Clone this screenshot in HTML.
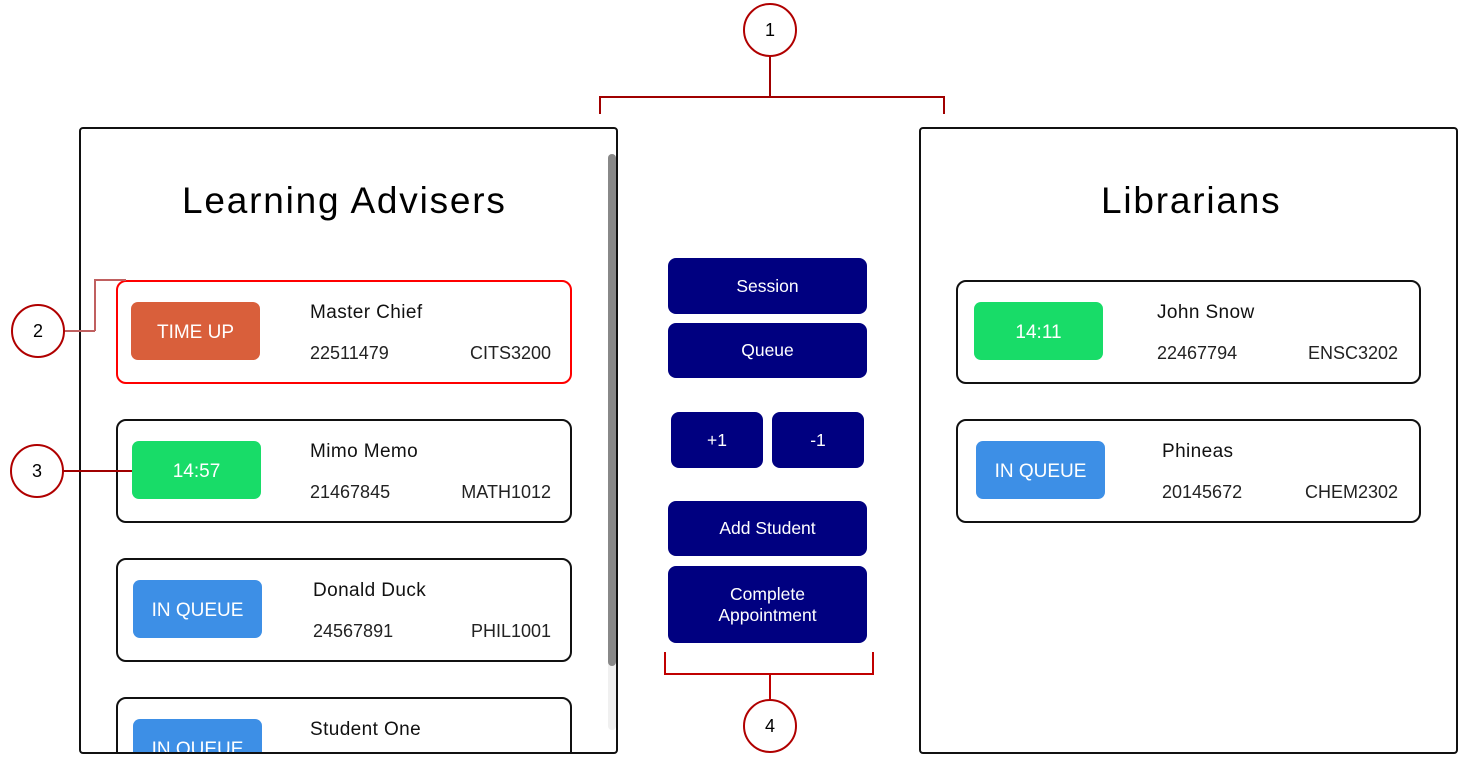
<!DOCTYPE html>
<html><head><meta charset="utf-8"><style>
*{margin:0;padding:0;box-sizing:border-box}
html,body{width:1464px;height:759px;overflow:hidden}
body{background:#fff;position:relative;font-family:"Liberation Sans",sans-serif}
.a{position:absolute}
.panel{position:absolute;border:2px solid #111;border-radius:4px;background:#fff;overflow:hidden}
.card{position:absolute;border:2px solid #111;border-radius:10px;background:#fff}
.badge{position:absolute;border-radius:7px;color:#fff;font-size:19px;display:flex;align-items:center;justify-content:center;width:129px;height:58px;padding-top:3px}
.t{position:absolute;white-space:nowrap;color:#222;line-height:1}
.nm{font-size:19px;color:#111;letter-spacing:0.4px}
.btn{position:absolute;background:#000080;color:#fff;border-radius:8px;display:flex;align-items:center;justify-content:center;text-align:center;font-size:17.5px;line-height:21px}
.circ{position:absolute;width:54px;height:54px;border:2px solid #b00000;border-radius:50%;display:flex;align-items:center;justify-content:center;font-size:18px;color:#000;background:#fff}
.ln{position:absolute;background:#a00000}
.title{font-size:37px;color:#000;letter-spacing:1.8px}
</style></head><body>

<div class="panel" style="left:79px;top:127px;width:539px;height:627px">
  <div class="t title" style="left:101px;top:53px">Learning Advisers</div>
  <div class="a" style="left:527px;top:25px;width:8px;height:576px;background:#f0f0f0;border-radius:4px"></div>
  <div class="a" style="left:527px;top:25px;width:8px;height:512px;background:#888;border-radius:4px"></div>

  <div class="card" style="left:35px;top:151px;width:456px;height:104px;border-color:#f00">
    <div class="badge" style="left:13px;top:20px;background:#d95f3b">TIME UP</div>
    <div class="t nm" style="left:192px;top:21px">Master Chief</div>
    <div class="t" style="left:192px;top:62px;font-size:18px">22511479</div>
    <div class="t" style="right:19px;top:62px;font-size:18px">CITS3200</div>
  </div>
  <div class="card" style="left:35px;top:290px;width:456px;height:104px">
    <div class="badge" style="left:14px;top:20px;background:#18dc68">14:57</div>
    <div class="t nm" style="left:192px;top:21px">Mimo Memo</div>
    <div class="t" style="left:192px;top:62px;font-size:18px">21467845</div>
    <div class="t" style="right:19px;top:62px;font-size:18px">MATH1012</div>
  </div>
  <div class="card" style="left:35px;top:429px;width:456px;height:104px">
    <div class="badge" style="left:15px;top:20px;background:#3d8fe6">IN QUEUE</div>
    <div class="t nm" style="left:195px;top:21px">Donald Duck</div>
    <div class="t" style="left:195px;top:62px;font-size:18px">24567891</div>
    <div class="t" style="right:19px;top:62px;font-size:18px">PHIL1001</div>
  </div>
  <div class="card" style="left:35px;top:568px;width:456px;height:104px">
    <div class="badge" style="left:15px;top:20px;background:#3d8fe6">IN QUEUE</div>
    <div class="t nm" style="left:192px;top:21px">Student One</div>
  </div>
</div>

<div class="panel" style="left:919px;top:127px;width:539px;height:627px">
  <div class="t title" style="left:180px;top:53px">Librarians</div>
  <div class="card" style="left:35px;top:151px;width:465px;height:104px">
    <div class="badge" style="left:16px;top:20px;background:#18dc68">14:11</div>
    <div class="t nm" style="left:199px;top:21px">John Snow</div>
    <div class="t" style="left:199px;top:62px;font-size:18px">22467794</div>
    <div class="t" style="right:21px;top:62px;font-size:18px">ENSC3202</div>
  </div>
  <div class="card" style="left:35px;top:290px;width:465px;height:104px">
    <div class="badge" style="left:18px;top:20px;background:#3d8fe6">IN QUEUE</div>
    <div class="t nm" style="left:204px;top:21px">Phineas</div>
    <div class="t" style="left:204px;top:62px;font-size:18px">20145672</div>
    <div class="t" style="right:21px;top:62px;font-size:18px">CHEM2302</div>
  </div>
</div>

<div class="btn" style="left:668px;top:258px;width:199px;height:56px">Session</div>
<div class="btn" style="left:668px;top:323px;width:199px;height:55px">Queue</div>
<div class="btn" style="left:671px;top:412px;width:92px;height:56px">+1</div>
<div class="btn" style="left:772px;top:412px;width:92px;height:56px">-1</div>
<div class="btn" style="left:668px;top:501px;width:199px;height:55px">Add Student</div>
<div class="btn" style="left:668px;top:566px;width:199px;height:77px">Complete<br>Appointment</div>

<div class="ln" style="left:769px;top:56px;width:1.5px;height:41px"></div>
<div class="ln" style="left:599px;top:96px;width:345px;height:1.5px"></div>
<div class="ln" style="left:599px;top:96px;width:1.5px;height:18px"></div>
<div class="ln" style="left:943px;top:96px;width:1.5px;height:18px"></div>
<div class="circ" style="left:743px;top:3px">1</div>

<div class="ln" style="left:64px;top:330px;width:31px;height:1.5px;background:#c06060"></div>
<div class="ln" style="left:94px;top:279px;width:1.5px;height:52px;background:#c06060"></div>
<div class="ln" style="left:94px;top:279px;width:32px;height:1.5px;background:#c06060"></div>
<div class="circ" style="left:11px;top:304px">2</div>

<div class="ln" style="left:62px;top:470px;width:70px;height:1.5px"></div>
<div class="circ" style="left:10px;top:444px">3</div>

<div class="ln" style="left:664px;top:652px;width:1.5px;height:22px;background:#c00000"></div>
<div class="ln" style="left:872px;top:652px;width:1.5px;height:22px;background:#c00000"></div>
<div class="ln" style="left:664px;top:673px;width:210px;height:1.5px;background:#c00000"></div>
<div class="ln" style="left:769px;top:673px;width:1.5px;height:27px;background:#c00000"></div>
<div class="circ" style="left:743px;top:699px">4</div>

</body></html>
